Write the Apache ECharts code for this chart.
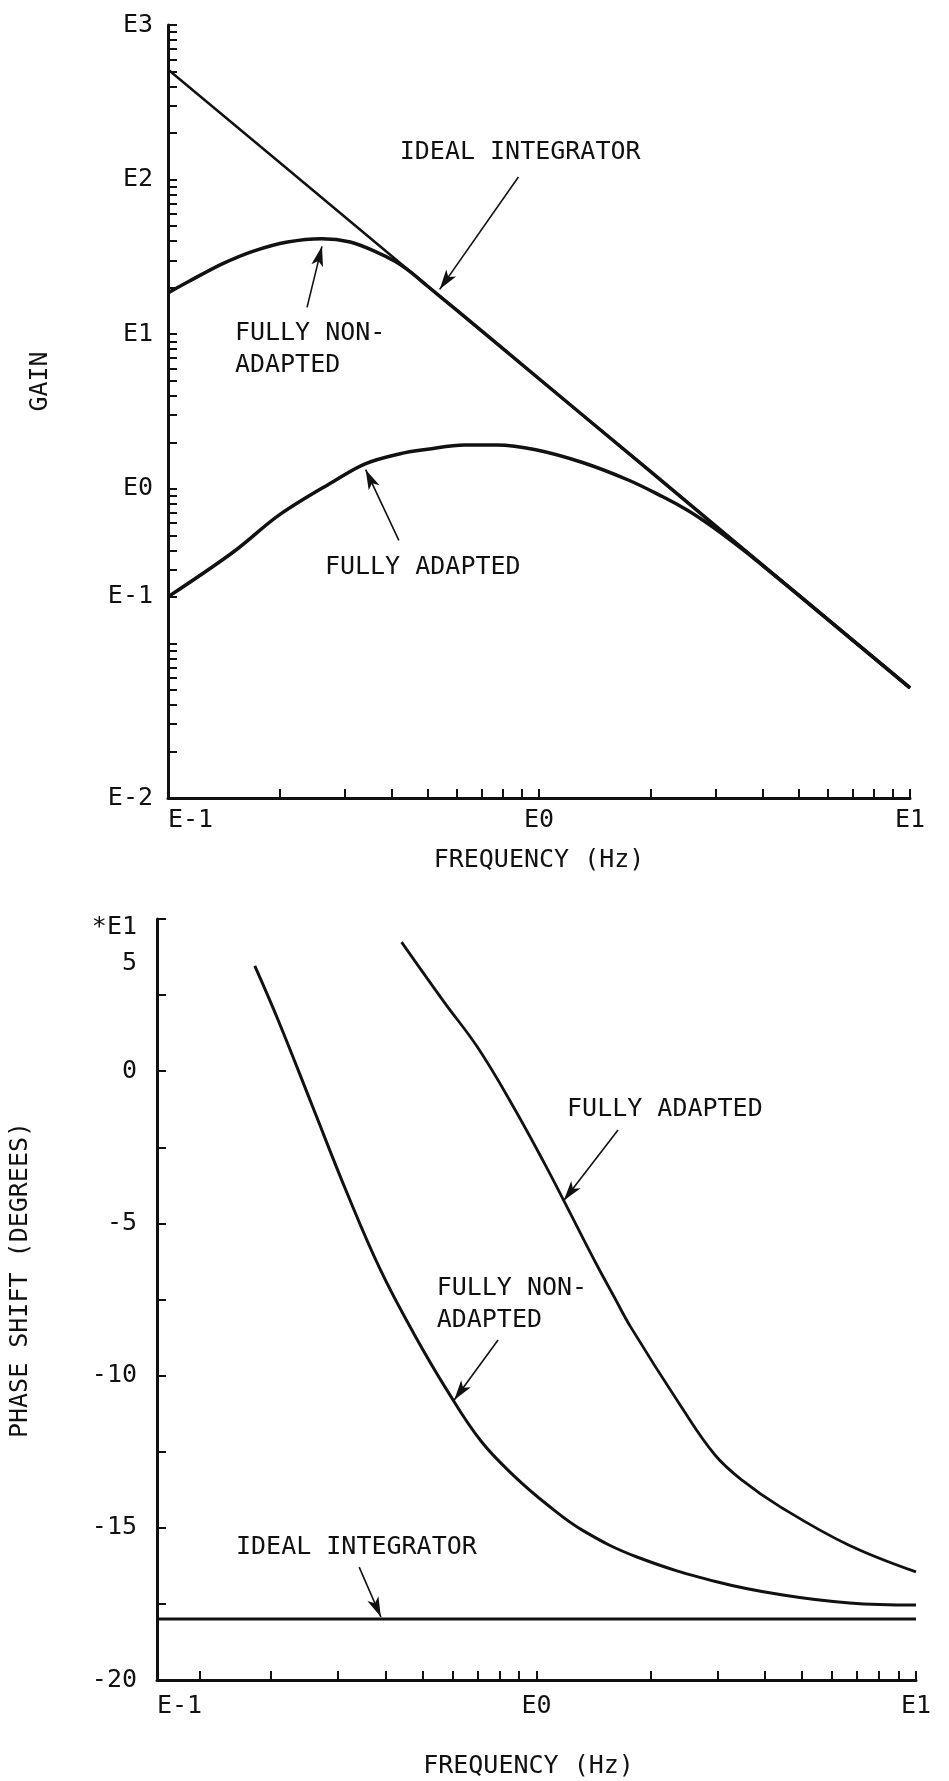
<!DOCTYPE html>
<html>
<head>
<meta charset="utf-8">
<script src="https://cdn.jsdelivr.net/npm/echarts@6/dist/echarts.min.js"></script>
<style>
html,body{margin:0;padding:0;background:#fff;}
#chart{width:949px;height:1781px;}
</style>
</head>
<body>
<div id="chart"></div>
<script>
// ---------- TOP PANEL: GAIN vs FREQUENCY (Hz), log-log ----------
const gainIdealFreq = [0.1, 0.2, 0.5, 1, 2, 5, 10];
const gainIdeal     = [515, 129, 20.6, 5.15, 1.29, 0.206, 0.0515];

const gainNonAdaptedFreq = [0.1, 0.114, 0.14, 0.17, 0.21, 0.26, 0.31, 0.36, 0.41, 0.45, 0.5, 0.6, 1, 2, 5, 10];
const gainNonAdapted     = [18.5, 22, 28.5, 34.5, 39.5, 41.5, 39.5, 34.5, 29.5, 25.3, 20.5, 14.3, 5.15, 1.29, 0.206, 0.0515];

const gainAdaptedFreq = [0.1, 0.15, 0.2, 0.28, 0.34, 0.42, 0.5, 0.63, 0.77, 0.98, 1.31, 1.74, 2.15, 2.5, 2.8, 3.2, 3.6, 4, 5, 10];
const gainAdapted     = [0.2, 0.39, 0.68, 1.12, 1.45, 1.68, 1.8, 1.92, 1.92, 1.79, 1.48, 1.14, 0.891, 0.732, 0.614, 0.488, 0.393, 0.320, 0.206, 0.0515];

const gainTickValues = [0.01,0.02,0.03,0.04,0.05,0.06,0.07,0.08,0.09,
                        0.1,0.2,0.3,0.4,0.5,0.6,0.7,0.8,0.9,
                        1,2,3,4,5,6,7,8,9,
                        10,20,30,40,50,60,70,80,90,
                        100,200,300,400,500,600,700,800,900,1000];
const gainLabelValues = [0.01, 0.2, 1, 10, 100, 1000];
const freqTickValuesTop = [0.1,0.2,0.3,0.4,0.5,0.6,0.7,0.8,0.9,1,2,3,4,5,6,7,8,9,10];
const freqTickValuesBottom = [0.1,0.13,0.2,0.3,0.4,0.5,0.6,0.7,0.8,0.9,1,2,3,4,5,6,7,8,9,10];
const freqLabelValues = [0.1, 1, 10];

// ---------- BOTTOM PANEL: PHASE SHIFT (DEGREES, *E1) ----------
const phaseIdealFreq = [0.1, 1, 10];
const phaseIdeal     = [-18, -18, -18];

const phaseNonAdaptedFreq = [0.181, 0.209, 0.257, 0.316, 0.388, 0.476, 0.583, 0.714, 0.875, 1.07, 1.33, 1.84, 3.0, 4.46, 6.68, 10];
const phaseNonAdapted     = [3.46, 1.65, -1.16, -3.97, -6.53, -8.64, -10.51, -12.15, -13.31, -14.25, -15.1, -15.96, -16.78, -17.21, -17.47, -17.54];

const phaseAdaptedFreq = [0.441, 0.571, 0.698, 0.863, 1.057, 1.18, 1.44, 1.6, 1.77, 2.4, 2.95, 3.5, 4.4, 6.6, 10];
const phaseAdapted     = [4.24, 2.27, 0.8, -1.1, -3.1, -4.25, -6.35, -7.4, -8.4, -11.0, -12.6, -13.46, -14.32, -15.55, -16.45];

// ---------- annotations (data coordinates) ----------
const gainNotes = [
  {text: 'IDEAL INTEGRATOR', at: [0.42, 150], from: [0.88, 104], to: [0.54, 19.5]},
  {text: 'FULLY NON-\nADAPTED', at: [0.151, 8], from: [0.237, 14.9], to: [0.26, 37]},
  {text: 'FULLY ADAPTED', at: [0.264, 0.309], from: [0.419, 0.464], to: [0.341, 1.33]}
];
const phaseNotes = [
  {text: 'FULLY ADAPTED', at: [1.20, -1.27], from: [1.64, -1.93], to: [1.18, -4.25]},
  {text: 'FULLY NON-\nADAPTED', at: [0.544, -7.66], from: [0.792, -8.83], to: [0.607, -10.8]},
  {text: 'IDEAL INTEGRATOR', at: [0.161, -15.66], from: [0.341, -16.29], to: [0.389, -17.93]}
];

// ---------- styling ----------
const FONT = 'DejaVu Sans Mono';
const INK = '#111111';
const textBase = {fontFamily: FONT, fontSize: 25, color: INK};

function zip(xs, ys) { return xs.map((x, i) => [x, ys[i]]); }
function fmtE(v) { return 'E' + Math.round(Math.log10(v)); }

function notesMarkLine(notes) {
  return {
    silent: true, animation: false,
    symbol: ['none', 'arrow'],
    symbolSize: [1, [9, 20]],
    lineStyle: {color: INK, width: 1.6, type: 'solid'},
    label: {show: false},
    emphasis: {disabled: true},
    data: notes.map(n => [{coord: n.from, symbol: 'none'}, {coord: n.to, symbol: 'arrow', symbolSize: [9, 20]}])
  };
}
function notesMarkPoint(notes) {
  return {
    silent: true, animation: false,
    symbol: 'circle', symbolSize: 1,
    itemStyle: {color: 'rgba(0,0,0,0)'},
    label: Object.assign({show: true, position: 'right', distance: 0, formatter: '{b}', lineHeight: 32, align: 'left'}, textBase),
    emphasis: {disabled: true},
    data: notes.map(n => ({name: n.text, coord: n.at}))
  };
}

const axisLine = {show: true, onZero: false, lineStyle: {color: INK, width: 3}};
function ticks(values) {
  return {show: true, inside: true, length: 9, customValues: values, lineStyle: {color: INK, width: 2}};
}

const chart = echarts.init(document.getElementById('chart'), null, {renderer: 'canvas'});
chart.setOption({
  animation: false,
  backgroundColor: '#ffffff',
  grid: [
    {left: 168, top: 25, width: 742, height: 773},
    {left: 156, top: 919, width: 760, height: 761}
  ],
  xAxis: [
    {
      gridIndex: 0, type: 'log', logBase: 10, min: 0.1, max: 10,
      name: 'FREQUENCY (Hz)', nameLocation: 'middle', nameGap: 50,
      nameTextStyle: Object.assign({}, textBase),
      axisLine: axisLine,
      axisTick: ticks(freqTickValuesTop),
      minorTick: {show: false},
      splitLine: {show: false},
      axisLabel: Object.assign({margin: 10, customValues: freqLabelValues, formatter: fmtE, alignMinLabel: 'left', alignMaxLabel: 'center'}, textBase)
    },
    {
      gridIndex: 1, type: 'log', logBase: 10, min: 0.1, max: 10,
      name: 'FREQUENCY (Hz)', nameLocation: 'middle', nameGap: 74,
      nameTextStyle: Object.assign({padding: [0, 16, 0, 0]}, textBase),
      axisLine: axisLine,
      axisTick: ticks(freqTickValuesBottom),
      minorTick: {show: false},
      splitLine: {show: false},
      axisLabel: Object.assign({margin: 14, customValues: freqLabelValues, formatter: fmtE, alignMinLabel: 'left', alignMaxLabel: 'center'}, textBase)
    }
  ],
  yAxis: [
    {
      gridIndex: 0, type: 'log', logBase: 10, min: 0.01, max: 1000,
      name: 'GAIN', nameLocation: 'middle', nameGap: 115,
      nameTextStyle: Object.assign({padding: [0, 0, 0, 60]}, textBase),
      axisLine: axisLine,
      axisTick: ticks(gainTickValues),
      minorTick: {show: false},
      splitLine: {show: false},
      axisLabel: Object.assign({margin: 15, customValues: gainLabelValues, formatter: fmtE}, textBase)
    },
    {
      gridIndex: 1, type: 'value', min: -20, max: 5, interval: 5,
      name: 'PHASE SHIFT (DEGREES)', nameLocation: 'middle', nameGap: 124,
      nameTextStyle: Object.assign({padding: [0, 0, 0, 39]}, textBase),
      axisLine: axisLine,
      axisTick: {show: true, inside: true, length: 9, lineStyle: {color: INK, width: 2}},
      minorTick: {show: true, splitNumber: 2, length: 9, lineStyle: {color: INK, width: 2}},
      splitLine: {show: false},
      axisLabel: Object.assign({
        margin: 20,
        formatter: v => v === 5 ? '{p| }\n{e|*E1}\n{f|5}' : String(v),
        rich: {
          p: {lineHeight: 52, fontFamily: FONT, fontSize: 25, color: INK, align: 'right'},
          e: {lineHeight: 36, fontFamily: FONT, fontSize: 25, color: INK, align: 'right'},
          f: {lineHeight: 36, fontFamily: FONT, fontSize: 25, color: INK, align: 'right'}
        }
      }, textBase)
    }
  ],
  series: [
    {
      name: 'IDEAL INTEGRATOR (gain)', type: 'line', xAxisIndex: 0, yAxisIndex: 0,
      data: zip(gainIdealFreq, gainIdeal), symbol: 'none', smooth: false, silent: true,
      lineStyle: {color: INK, width: 2.5},
      markLine: notesMarkLine(gainNotes), markPoint: notesMarkPoint(gainNotes)
    },
    {
      name: 'FULLY NON-ADAPTED (gain)', type: 'line', xAxisIndex: 0, yAxisIndex: 0,
      data: zip(gainNonAdaptedFreq, gainNonAdapted), symbol: 'none', smooth: 0.3, silent: true,
      lineStyle: {color: INK, width: 3.5}
    },
    {
      name: 'FULLY ADAPTED (gain)', type: 'line', xAxisIndex: 0, yAxisIndex: 0,
      data: zip(gainAdaptedFreq, gainAdapted), symbol: 'none', smooth: 0.35, silent: true,
      lineStyle: {color: INK, width: 3.5}
    },
    {
      name: 'IDEAL INTEGRATOR (phase)', type: 'line', xAxisIndex: 1, yAxisIndex: 1,
      data: zip(phaseIdealFreq, phaseIdeal), symbol: 'none', smooth: false, silent: true,
      lineStyle: {color: INK, width: 3},
      markLine: notesMarkLine(phaseNotes), markPoint: notesMarkPoint(phaseNotes)
    },
    {
      name: 'FULLY NON-ADAPTED (phase)', type: 'line', xAxisIndex: 1, yAxisIndex: 1,
      data: zip(phaseNonAdaptedFreq, phaseNonAdapted), symbol: 'none', smooth: 0.4, silent: true,
      lineStyle: {color: INK, width: 3}
    },
    {
      name: 'FULLY ADAPTED (phase)', type: 'line', xAxisIndex: 1, yAxisIndex: 1,
      data: zip(phaseAdaptedFreq, phaseAdapted), symbol: 'none', smooth: 0.4, silent: true,
      lineStyle: {color: INK, width: 2.8}
    }
  ]
});
</script>
</body>
</html>
